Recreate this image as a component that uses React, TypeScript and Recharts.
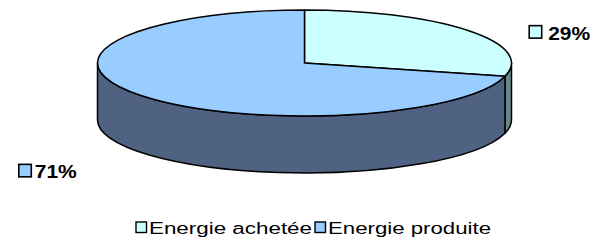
import React from 'react';
import { PieChart, Pie, Legend } from 'recharts';

const categories = ['Energie achetée', 'Energie produite'];
const values = [29, 71];
const labels = ['29%', '71%'];
const topColors = ['#CCFFFF', '#99CCFF'];
const sideColors = ['#678888', '#4F6282'];

const data = categories.map((name, i) => ({
  name,
  value: values[i],
  label: labels[i],
  topColor: topColors[i],
  sideColor: sideColors[i],
}));

const RATIO = 53 / 207;
const DEPTH = 57;
const RAD = Math.PI / 180;

function pt(cx: number, cy: number, rx: number, ry: number, a: number, dy = 0): string {
  return `${cx + rx * Math.cos(a * RAD)},${cy - ry * Math.sin(a * RAD) + dy}`;
}

function EllipseSector(props: any) {
  const { cx, cy, outerRadius, startAngle, endAngle } = props;
  const entry = props.payload || props;
  const top = entry.topColor || props.topColor || props.fill;
  const side = entry.sideColor || props.sideColor || '#4F6282';
  const rx = outerRadius;
  const ry = outerRadius * RATIO;
  const hi = Math.max(startAngle, endAngle);
  const lo = Math.min(startAngle, endAngle);
  const large = hi - lo > 180 ? 1 : 0;
  const topPath = `M${cx},${cy} L${pt(cx, cy, rx, ry, hi)} A${rx},${ry} 0 ${large} 1 ${pt(cx, cy, rx, ry, lo)} Z`;
  const walls: string[] = [];
  for (const k of [-720, -360, 0, 360]) {
    const a1 = Math.min(hi, k);
    const a2 = Math.max(lo, -180 + k);
    if (a1 > a2 + 0.01) {
      const l = a1 - a2 > 180 ? 1 : 0;
      walls.push(
        `M${pt(cx, cy, rx, ry, a1)} A${rx},${ry} 0 ${l} 1 ${pt(cx, cy, rx, ry, a2)} L${pt(cx, cy, rx, ry, a2, DEPTH)} A${rx},${ry} 0 ${l} 0 ${pt(cx, cy, rx, ry, a1, DEPTH)} Z`
      );
    }
  }
  return (
    <g>
      {walls.map((d, i) => (
        <path key={i} d={d} fill={side} stroke="#000" strokeWidth={1.5} strokeLinejoin="round" />
      ))}
      <path d={topPath} fill={top} stroke="#000" strokeWidth={1.5} strokeLinejoin="round" />
    </g>
  );
}

function renderLabel(props: any) {
  const { cx, cy, midAngle, outerRadius, index } = props;
  const entry = data[index];
  const cos = Math.cos(midAngle * RAD);
  const sin = Math.sin(midAngle * RAD);
  const x = cx + outerRadius * 1.38 * cos;
  const y = cy - outerRadius * RATIO * 0.95 * sin + (sin < 0 ? 77 : 0);
  const right = cos >= 0;
  const rectX = right ? x - 1 : x - 60;
  const textX = right ? x + 18 : x - 44;
  return (
    <g>
      <rect x={rectX} y={y - 6.5} width={12.5} height={12.5} fill={entry.topColor} stroke="#000" strokeWidth={1.6} />
      <text
        x={textX}
        y={y + 7.5}
        fontFamily="'Liberation Sans', Arial, sans-serif"
        fontWeight="bold"
        fontSize={19}
        fill="#000"
        textLength={42}
        lengthAdjust="spacingAndGlyphs"
      >
        {entry.label}
      </text>
    </g>
  );
}

function LegendContent() {
  const items = [
    { sq: 136, tx: 149, len: 163 },
    { sq: 315, tx: 328, len: 163 },
  ];
  return (
    <svg width={596} height={29} style={{ display: 'block' }}>
      {data.map((d, i) => (
        <g key={d.name}>
          <rect x={items[i].sq} y={11} width={10.5} height={10.5} fill={d.topColor} stroke="#000" strokeWidth={1.4} />
          <text
            x={items[i].tx}
            y={23}
            fontFamily="'Liberation Sans', Arial, sans-serif"
            fontSize={16}
            fill="#000"
            textLength={items[i].len}
            lengthAdjust="spacingAndGlyphs"
          >
            {d.name}
          </text>
        </g>
      ))}
    </svg>
  );
}

export default function App() {
  return (
    <div style={{ position: 'absolute', left: 0, top: 0, width: 596, height: 240, background: '#fff' }}>
      <PieChart width={596} height={240} margin={{ top: 0, right: 0, bottom: 0, left: 0 }}>
        <Pie
          data={data}
          dataKey="value"
          nameKey="name"
          cx={304.5}
          cy={63}
          outerRadius={207}
          startAngle={90}
          endAngle={-270}
          stroke="none"
          isAnimationActive={false}
          shape={EllipseSector}
          inactiveShape={EllipseSector}
          activeShape={EllipseSector}
          label={renderLabel}
          labelLine={false}
        />
        <Legend
          content={<LegendContent />}
          wrapperStyle={{ position: 'absolute', left: 0, top: 211, width: 596, height: 29 }}
        />
      </PieChart>
    </div>
  );
}
